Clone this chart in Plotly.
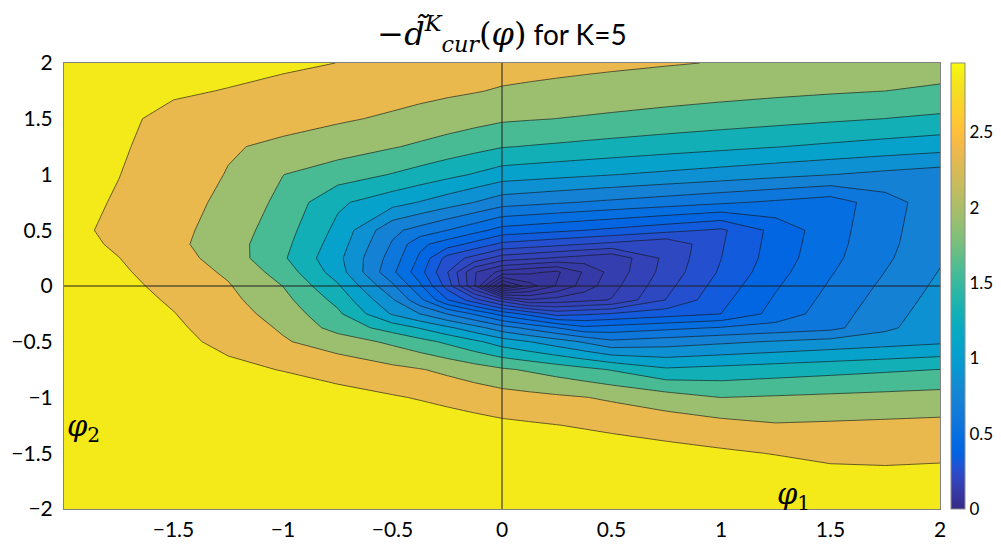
import numpy as np
import plotly.graph_objects as go

# grid of the two parameters (finer close to the minimum)
phi1 = [-2, -1.75, -1.5, -1.25, -1, -0.75, -0.5, -0.375, -0.25, -0.125, 0,
        0.125, 0.25, 0.375, 0.5, 0.75, 1, 1.25, 1.5, 1.75, 2]
phi2 = [-2, -1.75, -1.5, -1.25, -1, -0.75, -0.5, -0.375, -0.25, -0.125, 0,
        0.125, 0.25, 0.375, 0.5, 0.75, 1, 1.25, 1.5, 1.75, 2]

# -d_cur(phi), one row per phi2 value (bottom to top)
d_cur = [
    [5.17, 5.03, 4.89, 4.76, 4.62, 4.48, 4.34, 4.27, 4.21, 4.14, 4.07, 4.02, 3.98, 3.93, 3.89, 3.80, 3.71, 3.62, 3.53, 3.44, 3.34],
    [4.84, 4.70, 4.56, 4.42, 4.28, 4.15, 4.01, 3.94, 3.87, 3.80, 3.73, 3.69, 3.64, 3.60, 3.55, 3.46, 3.37, 3.27, 3.16, 3.06, 3.08],
    [4.50, 4.36, 4.23, 4.09, 3.95, 3.81, 3.68, 3.61, 3.54, 3.47, 3.40, 3.35, 3.30, 3.25, 3.19, 3.09, 2.985, 2.877, 2.754, 2.780, 2.807],
    [4.17, 4.03, 3.89, 3.76, 3.62, 3.48, 3.334, 3.254, 3.175, 3.095, 3.016, 2.964, 2.912, 2.852, 2.790, 2.667, 2.543, 2.419, 2.445, 2.473, 2.500],
    [3.84, 3.70, 3.56, 3.42, 3.267, 3.108, 2.949, 2.863, 2.769, 2.674, 2.580, 2.518, 2.456, 2.394, 2.311, 2.131, 1.950, 1.989, 2.028, 2.068, 2.108],
    [3.72, 3.47, 3.206, 3.041, 2.878, 2.689, 2.500, 2.405, 2.280, 2.142, 2.004, 1.906, 1.798, 1.691, 1.582, 1.353, 1.402, 1.453, 1.503, 1.554, 1.604],
    [3.59, 3.342, 3.062, 2.759, 2.425, 2.163, 1.875, 1.710, 1.542, 1.367, 1.193, 1.079, 0.970, 0.862, 0.755, 0.801, 0.849, 0.896, 0.944, 0.992, 1.041],
    [3.53, 3.270, 2.989, 2.673, 2.322, 1.813, 1.469, 1.294, 1.120, 0.952, 0.787, 0.685, 0.593, 0.508, 0.526, 0.564, 0.602, 0.643, 0.684, 0.844, 1.011],
    [3.467, 3.197, 2.917, 2.587, 2.196, 1.663, 1.052, 0.882, 0.718, 0.578, 0.451, 0.374, 0.302, 0.317, 0.332, 0.365, 0.399, 0.522, 0.659, 0.814, 0.981],
    [3.404, 3.125, 2.834, 2.501, 2.070, 1.508, 0.901, 0.627, 0.403, 0.291, 0.200, 0.150, 0.160, 0.171, 0.182, 0.270, 0.378, 0.499, 0.633, 0.784, 0.951],
    [3.333, 3.052, 2.748, 2.415, 1.944, 1.348, 0.752, 0.506, 0.301, 0.149, 0.048, 0.075, 0.101, 0.132, 0.168, 0.253, 0.357, 0.476, 0.607, 0.755, 0.921],
    [3.260, 2.980, 2.662, 2.306, 1.794, 1.190, 0.619, 0.431, 0.271, 0.150, 0.113, 0.104, 0.096, 0.124, 0.158, 0.238, 0.336, 0.454, 0.583, 0.725, 0.890],
    [3.188, 2.908, 2.576, 2.180, 1.644, 1.134, 0.662, 0.469, 0.303, 0.249, 0.200, 0.188, 0.176, 0.166, 0.155, 0.232, 0.326, 0.438, 0.563, 0.700, 0.861],
    [3.116, 2.823, 2.490, 2.135, 1.692, 1.190, 0.708, 0.510, 0.440, 0.374, 0.312, 0.298, 0.283, 0.268, 0.255, 0.228, 0.321, 0.432, 0.553, 0.686, 0.842],
    [3.043, 2.790, 2.516, 2.179, 1.744, 1.245, 0.758, 0.672, 0.593, 0.521, 0.451, 0.434, 0.416, 0.399, 0.382, 0.348, 0.316, 0.426, 0.546, 0.679, 0.830],
    [3.089, 2.852, 2.577, 2.267, 1.849, 1.358, 1.160, 1.064, 0.970, 0.879, 0.787, 0.763, 0.739, 0.716, 0.695, 0.653, 0.612, 0.573, 0.534, 0.665, 0.814],
    [3.141, 2.910, 2.637, 2.355, 1.955, 1.768, 1.583, 1.486, 1.387, 1.291, 1.193, 1.164, 1.137, 1.110, 1.083, 1.032, 0.983, 0.933, 0.886, 0.839, 0.798],
    [3.192, 2.961, 2.698, 2.424, 2.286, 2.132, 1.977, 1.891, 1.798, 1.707, 1.615, 1.584, 1.554, 1.523, 1.492, 1.433, 1.375, 1.320, 1.266, 1.214, 1.164],
    [3.243, 3.012, 2.759, 2.649, 2.544, 2.438, 2.312, 2.235, 2.157, 2.081, 2.004, 1.975, 1.947, 1.916, 1.884, 1.822, 1.763, 1.706, 1.650, 1.596, 1.540],
    [3.293, 3.062, 2.970, 2.878, 2.772, 2.667, 2.562, 2.509, 2.456, 2.404, 2.338, 2.300, 2.264, 2.230, 2.197, 2.137, 2.084, 2.036, 1.992, 1.951, 1.892],
    [3.350, 3.252, 3.163, 3.074, 2.985, 2.896, 2.791, 2.738, 2.685, 2.633, 2.580, 2.550, 2.521, 2.492, 2.464, 2.410, 2.358, 2.294, 2.241, 2.192, 2.137],
]

# contour levels (geometric spacing, denser towards the minimum)
levels = [0.0548, 0.0668, 0.0815, 0.0994, 0.1212, 0.1478, 0.1802, 0.2198, 0.268,
          0.3269, 0.3986, 0.486, 0.5928, 0.723, 0.8817, 1.075, 1.311, 1.599,
          1.95, 2.378, 2.9]
c_max = 2.96          # top of the colour bar
band_c_max = 3.0      # colour limit used for the filled bands
cbar_ticks = [0, 0.5, 1, 1.5, 2, 2.5]
x_ticks = [-1.5, -1, -0.5, 0, 0.5, 1, 1.5, 2]
y_ticks = [-2, -1.5, -1, -0.5, 0, 0.5, 1, 1.5, 2]

# MATLAB parula colormap
PARULA = [
    (0.2081, 0.1663, 0.5292), (0.2116, 0.1898, 0.5777), (0.2123, 0.2138, 0.6270),
    (0.2081, 0.2386, 0.6771), (0.1959, 0.2645, 0.7279), (0.1707, 0.2919, 0.7792),
    (0.1253, 0.3242, 0.8303), (0.0591, 0.3598, 0.8683), (0.0117, 0.3875, 0.8820),
    (0.0060, 0.4086, 0.8828), (0.0165, 0.4266, 0.8786), (0.0329, 0.4430, 0.8720),
    (0.0498, 0.4586, 0.8641), (0.0629, 0.4737, 0.8554), (0.0723, 0.4887, 0.8467),
    (0.0779, 0.5040, 0.8384), (0.0793, 0.5200, 0.8312), (0.0749, 0.5375, 0.8263),
    (0.0641, 0.5570, 0.8240), (0.0488, 0.5772, 0.8228), (0.0343, 0.5966, 0.8199),
    (0.0265, 0.6137, 0.8135), (0.0239, 0.6287, 0.8038), (0.0231, 0.6418, 0.7913),
    (0.0228, 0.6535, 0.7768), (0.0267, 0.6642, 0.7607), (0.0384, 0.6743, 0.7436),
    (0.0590, 0.6838, 0.7254), (0.0843, 0.6928, 0.7062), (0.1133, 0.7015, 0.6859),
    (0.1453, 0.7098, 0.6646), (0.1801, 0.7177, 0.6424), (0.2178, 0.7250, 0.6193),
    (0.2586, 0.7317, 0.5954), (0.3022, 0.7376, 0.5712), (0.3482, 0.7424, 0.5473),
    (0.3953, 0.7459, 0.5244), (0.4420, 0.7481, 0.5033), (0.4871, 0.7491, 0.4840),
    (0.5300, 0.7491, 0.4661), (0.5709, 0.7485, 0.4494), (0.6099, 0.7473, 0.4337),
    (0.6473, 0.7456, 0.4188), (0.6834, 0.7435, 0.4044), (0.7184, 0.7411, 0.3905),
    (0.7525, 0.7384, 0.3768), (0.7858, 0.7356, 0.3633), (0.8185, 0.7327, 0.3498),
    (0.8507, 0.7299, 0.3360), (0.8824, 0.7274, 0.3217), (0.9139, 0.7258, 0.3063),
    (0.9450, 0.7261, 0.2886), (0.9739, 0.7314, 0.2666), (0.9938, 0.7455, 0.2403),
    (0.9990, 0.7653, 0.2164), (0.9955, 0.7861, 0.1967), (0.9880, 0.8066, 0.1794),
    (0.9789, 0.8271, 0.1633), (0.9697, 0.8481, 0.1475), (0.9626, 0.8705, 0.1309),
    (0.9589, 0.8949, 0.1132), (0.9598, 0.9218, 0.0948), (0.9661, 0.9514, 0.0755),
    (0.9763, 0.9831, 0.0538),
]


def parula(t):
    pos = np.linspace(0, 1, len(PARULA))
    arr = np.array(PARULA)
    r, g, b = (np.interp(t, pos, arr[:, i]) * 255 for i in range(3))
    return f"rgb({r:.0f},{g:.0f},{b:.0f})"


parula_scale = [[i / (len(PARULA) - 1), parula(i / (len(PARULA) - 1))] for i in range(len(PARULA))]

# each band takes the colour of its lower level (MATLAB contourf style)
n_lev = len(levels)
band_scale = [[0.0, parula(0.0)]]
for j in range(1, n_lev + 1):
    band_scale.append([j / n_lev, parula(levels[j - 1] / band_c_max)])

log_lev = np.log(levels)
step = (log_lev[-1] - log_lev[0]) / (n_lev - 1)

fig = go.Figure()
fig.add_trace(go.Contour(
    x=phi1, y=phi2, z=np.log(np.array(d_cur)),
    autocontour=False,
    contours=dict(start=log_lev[0], end=log_lev[-1] + step * 1e-4, size=step,
                  coloring="fill", showlines=True),
    colorscale=band_scale,
    line=dict(color="rgba(20,20,20,0.8)", width=0.8, smoothing=0),
    showscale=False,
    hoverinfo="skip",
))

# colourbar on the real value scale
fig.add_trace(go.Scatter(
    x=[None, None], y=[None, None], mode="markers", showlegend=False, hoverinfo="skip",
    marker=dict(color=[0, c_max], cmin=0, cmax=c_max, colorscale=parula_scale, showscale=True,
                colorbar=dict(x=1.012, xanchor="left", y=0.5, yanchor="middle",
                              len=1, lenmode="fraction", thickness=14, ypad=0, xpad=0,
                              outlinecolor="rgb(140,140,140)", outlinewidth=1,
                              tickvals=cbar_ticks, ticktext=[f"{v:g}" for v in cbar_ticks],
                              ticks="", ticklen=0,
                              tickfont=dict(size=17, color="black"))),
))

fig.add_hline(y=0, line_width=1, line_color="rgb(30,30,30)", layer="above")
fig.add_vline(x=0, line_width=1, line_color="rgb(30,30,30)", layer="above")

fig.add_annotation(x=-1.91, y=-1.27, text="<i>φ</i><sub>2</sub>", showarrow=False,
                   font=dict(family="DejaVu Serif", size=29, color="black"))
fig.add_annotation(x=1.33, y=-1.885, text="<i>φ</i><sub>1</sub>", showarrow=False,
                   font=dict(family="DejaVu Serif", size=29, color="black"))

axis_style = dict(showgrid=False, zeroline=False, showline=True, mirror=True,
                  linecolor="rgb(130,130,130)", linewidth=1, ticks="",
                  automargin=False, tickfont=dict(size=21, color="black"))
fig.update_xaxes(range=[-2, 2], tickvals=x_ticks, ticklabelstandoff=2,
                 ticktext=[f"{v:g}".replace("-", "−") for v in x_ticks], **axis_style)
fig.update_yaxes(range=[-2, 2], tickvals=y_ticks, ticklabelstandoff=6,
                 ticktext=[f"{v:g}".replace("-", "−") for v in y_ticks], **axis_style)

# the page adds an 8 px body margin, so margins are shifted by that amount
fig.update_layout(
    width=1001, height=544,
    margin=dict(l=56, r=69, t=55, b=43),
    font=dict(family="Lato", color="black"),
    paper_bgcolor="white", plot_bgcolor="white",
    title=dict(text="<span style='font-family:DejaVu Serif;font-size:32px'>−<i>d̃</i>"
                    "<sup><i>K</i></sup><sub><i>cur</i></sub>(<i>φ</i>)</span> for K=5",
               x=0.5, xref="paper", xanchor="center", automargin=False,
               y=1 - 27 / 544, yref="container", yanchor="middle",
               font=dict(size=28, color="black")),
)

fig.write_html("out.html")
